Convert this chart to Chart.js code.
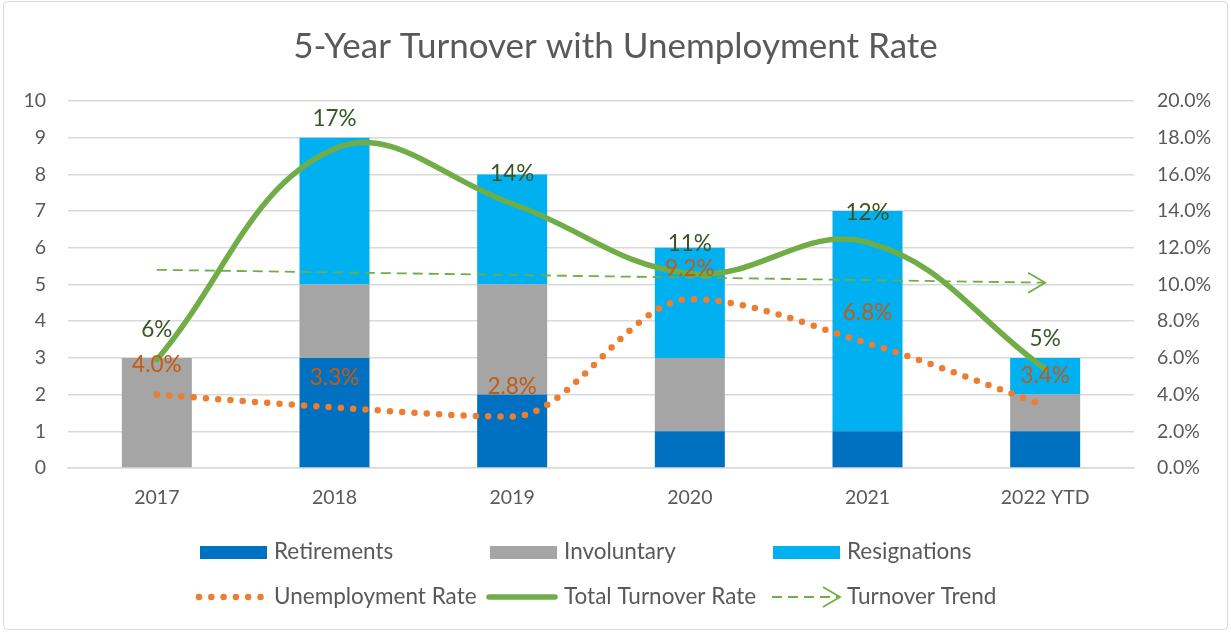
<!DOCTYPE html>
<html>
<head>
<meta charset="utf-8">
<script src="https://cdn.jsdelivr.net/npm/chart.js@4.4.0/dist/chart.umd.min.js"></script>
<style>
    body { margin: 0; background: #fff; }
</style>
</head>
<body>
<canvas id="graficoTurnover" width="1231" height="632"></canvas>
<script>
// Dados
const anos = ['2017', '2018', '2019', '2020', '2021', '2022 YTD'];
const retirements = [0, 3, 2, 1, 1, 1];
const involuntary = [3, 2, 3, 2, 0, 1];
const resignations = [0, 4, 3, 3, 6, 1];
const unemploymentRate = [4.0, 3.3, 2.8, 9.2, 6.8, 3.4];   // %
const turnoverRate = [5.9, 17.4, 14.4, 10.6, 12.3, 5.4];   // %
const turnoverTrend = [10.8, null, null, null, null, 10.1]; // linha de tendência (início e fim)

const fonte = 'Lato, "Open Sans", sans-serif';
const cinzaTexto = '#595959';

// Moldura e fundo
const molduraPlugin = {
    id: 'moldura',
    beforeDraw(chart) {
        let ctx = chart.ctx;
        ctx.save();
        ctx.fillStyle = '#fff';
        ctx.fillRect(0, 0, chart.width, chart.height);
        ctx.strokeStyle = '#D9D9D9';
        ctx.lineWidth = 1;
        ctx.beginPath();
        ctx.roundRect(3.5, 1.5, chart.width - 7, chart.height - 4, 4);
        ctx.stroke();
        ctx.restore();
    }
};

// Seta no fim da linha de tendência
function desenharSeta(ctx, x, y, cor) {
    ctx.save();
    ctx.strokeStyle = cor;
    ctx.lineWidth = 1.8;
    ctx.beginPath();
    ctx.moveTo(x - 17, y - 10);
    ctx.lineTo(x, y);
    ctx.lineTo(x - 17, y + 10);
    ctx.stroke();
    ctx.restore();
}

// Rótulos de dados e seta
const rotulosPlugin = {
    id: 'rotulos',
    afterDatasetsDraw(chart) {
        let ctx = chart.ctx;
        chart.data.datasets.forEach((ds, i) => {
            let meta = chart.getDatasetMeta(i);
            if (ds.arrow) {
                let ultimo = meta.data[ds.data.length - 1];
                desenharSeta(ctx, ultimo.x, ultimo.y, ds.borderColor);
            }
        });
        chart.data.datasets.forEach((ds, i) => {
            if (!ds.labelColor) return;
            let meta = chart.getDatasetMeta(i);
            ctx.save();
            ctx.font = '22.5px ' + fonte;
            ctx.fillStyle = ds.labelColor;
            ctx.textAlign = 'center';
            ctx.textBaseline = 'middle';
            meta.data.forEach((pt, j) => {
                ctx.fillText(ds.labelFormat(ds.data[j]), pt.x, pt.y - 30);
            });
            ctx.restore();
        });
    }
};

// Legenda em grade (3 colunas x 2 linhas)
const legendaPlugin = {
    id: 'legendaGrade',
    afterDraw(chart) {
        let ctx = chart.ctx;
        const colunas = [197, 487, 770];
        const linhas = [552, 597];
        ctx.save();
        ctx.font = '22.5px ' + fonte;
        ctx.textBaseline = 'middle';
        ctx.fillStyle = cinzaTexto;
        chart.data.datasets.forEach((ds, i) => {
            let x = colunas[i % 3];
            let y = linhas[Math.floor(i / 3)];
            if (ds.type === 'bar') {
                ctx.fillStyle = ds.backgroundColor;
                ctx.fillRect(x + 3, y - 6, 67, 13);
            } else {
                ctx.save();
                ctx.strokeStyle = ds.borderColor;
                ctx.lineWidth = ds.borderWidth;
                ctx.lineCap = ds.borderCapStyle || 'butt';
                ctx.setLineDash(ds.borderDash || []);
                ctx.beginPath();
                ctx.moveTo(x + 2, y);
                ctx.lineTo(x + 68, y);
                ctx.stroke();
                ctx.restore();
                if (ds.arrow) desenharSeta(ctx, x + 70, y, ds.borderColor);
            }
            ctx.fillStyle = cinzaTexto;
            ctx.fillText(ds.label, x + 77, y);
        });
        ctx.restore();
    }
};

function criarGrafico() {
    let ctx = document.getElementById('graficoTurnover').getContext('2d');

    new Chart(ctx, {
        data: {
            labels: anos,
            datasets: [
                {
                    type: 'bar', label: 'Retirements', data: retirements,
                    backgroundColor: '#0070C0', yAxisID: 'y', order: 10
                },
                {
                    type: 'bar', label: 'Involuntary', data: involuntary,
                    backgroundColor: '#A5A5A5', yAxisID: 'y', order: 10
                },
                {
                    type: 'bar', label: 'Resignations', data: resignations,
                    backgroundColor: '#00B0F0', yAxisID: 'y', order: 10
                },
                {
                    type: 'line', label: 'Unemployment Rate', data: unemploymentRate,
                    borderColor: '#ED7D31', borderWidth: 6.5, borderDash: [0, 12.3],
                    borderCapStyle: 'round', cubicInterpolationMode: 'monotone', pointRadius: 0,
                    yAxisID: 'y1', order: 2,
                    labelColor: '#C55A11', labelFormat: v => v.toFixed(1) + '%'
                },
                {
                    type: 'line', label: 'Total Turnover Rate', data: turnoverRate,
                    borderColor: '#70AD47', borderWidth: 5.5, tension: 0.4, pointRadius: 0,
                    borderCapStyle: 'round',
                    yAxisID: 'y1', order: 1,
                    labelColor: '#375623', labelFormat: v => Math.round(v) + '%'
                },
                {
                    type: 'line', label: 'Turnover Trend', data: turnoverTrend,
                    borderColor: '#70AD47', borderWidth: 1.8, borderDash: [10, 6],
                    spanGaps: true, pointRadius: 0, yAxisID: 'y1', order: 3,
                    arrow: true
                }
            ]
        },
        options: {
            responsive: false,
            animation: false,
            events: [],
            layout: { padding: { left: 0, right: 0, bottom: 124 } },
            datasets: {
                bar: { categoryPercentage: 1, barPercentage: 0.394 }
            },
            scales: {
                x: {
                    stacked: true,
                    grid: { display: false, drawTicks: false },
                    border: { display: true, color: '#D9D9D9', width: 1.5 },
                    ticks: { color: cinzaTexto, font: { family: fonte, size: 19.5 }, padding: 18 },
                    afterFit: s => { s.height = 40; }
                },
                y: {
                    stacked: true,
                    position: 'left',
                    min: 0, max: 10,
                    ticks: { stepSize: 1, color: cinzaTexto, font: { family: fonte, size: 19.5 }, padding: 22 },
                    grid: { color: '#D9D9D9', lineWidth: 1.5, drawTicks: false },
                    border: { display: false },
                    afterFit: s => { s.width = 68; }
                },
                y1: {
                    position: 'right',
                    min: 0, max: 20,
                    ticks: {
                        stepSize: 2, color: cinzaTexto, font: { family: fonte, size: 19.5 }, padding: 23,
                        callback: v => v.toFixed(1) + '%'
                    },
                    grid: { display: false, drawTicks: false },
                    border: { display: false },
                    afterFit: s => { s.width = 97; }
                }
            },
            plugins: {
                legend: { display: false },
                tooltip: { enabled: false },
                title: {
                    display: true,
                    text: '5-Year Turnover with Unemployment Rate',
                    color: cinzaTexto,
                    font: { family: fonte, size: 35, weight: 'normal' },
                    padding: { top: 26, bottom: 33 }
                }
            }
        },
        plugins: [molduraPlugin, rotulosPlugin, legendaPlugin]
    });
}

document.addEventListener('DOMContentLoaded', () => {
    criarGrafico();
});
</script>
</body>
</html>
